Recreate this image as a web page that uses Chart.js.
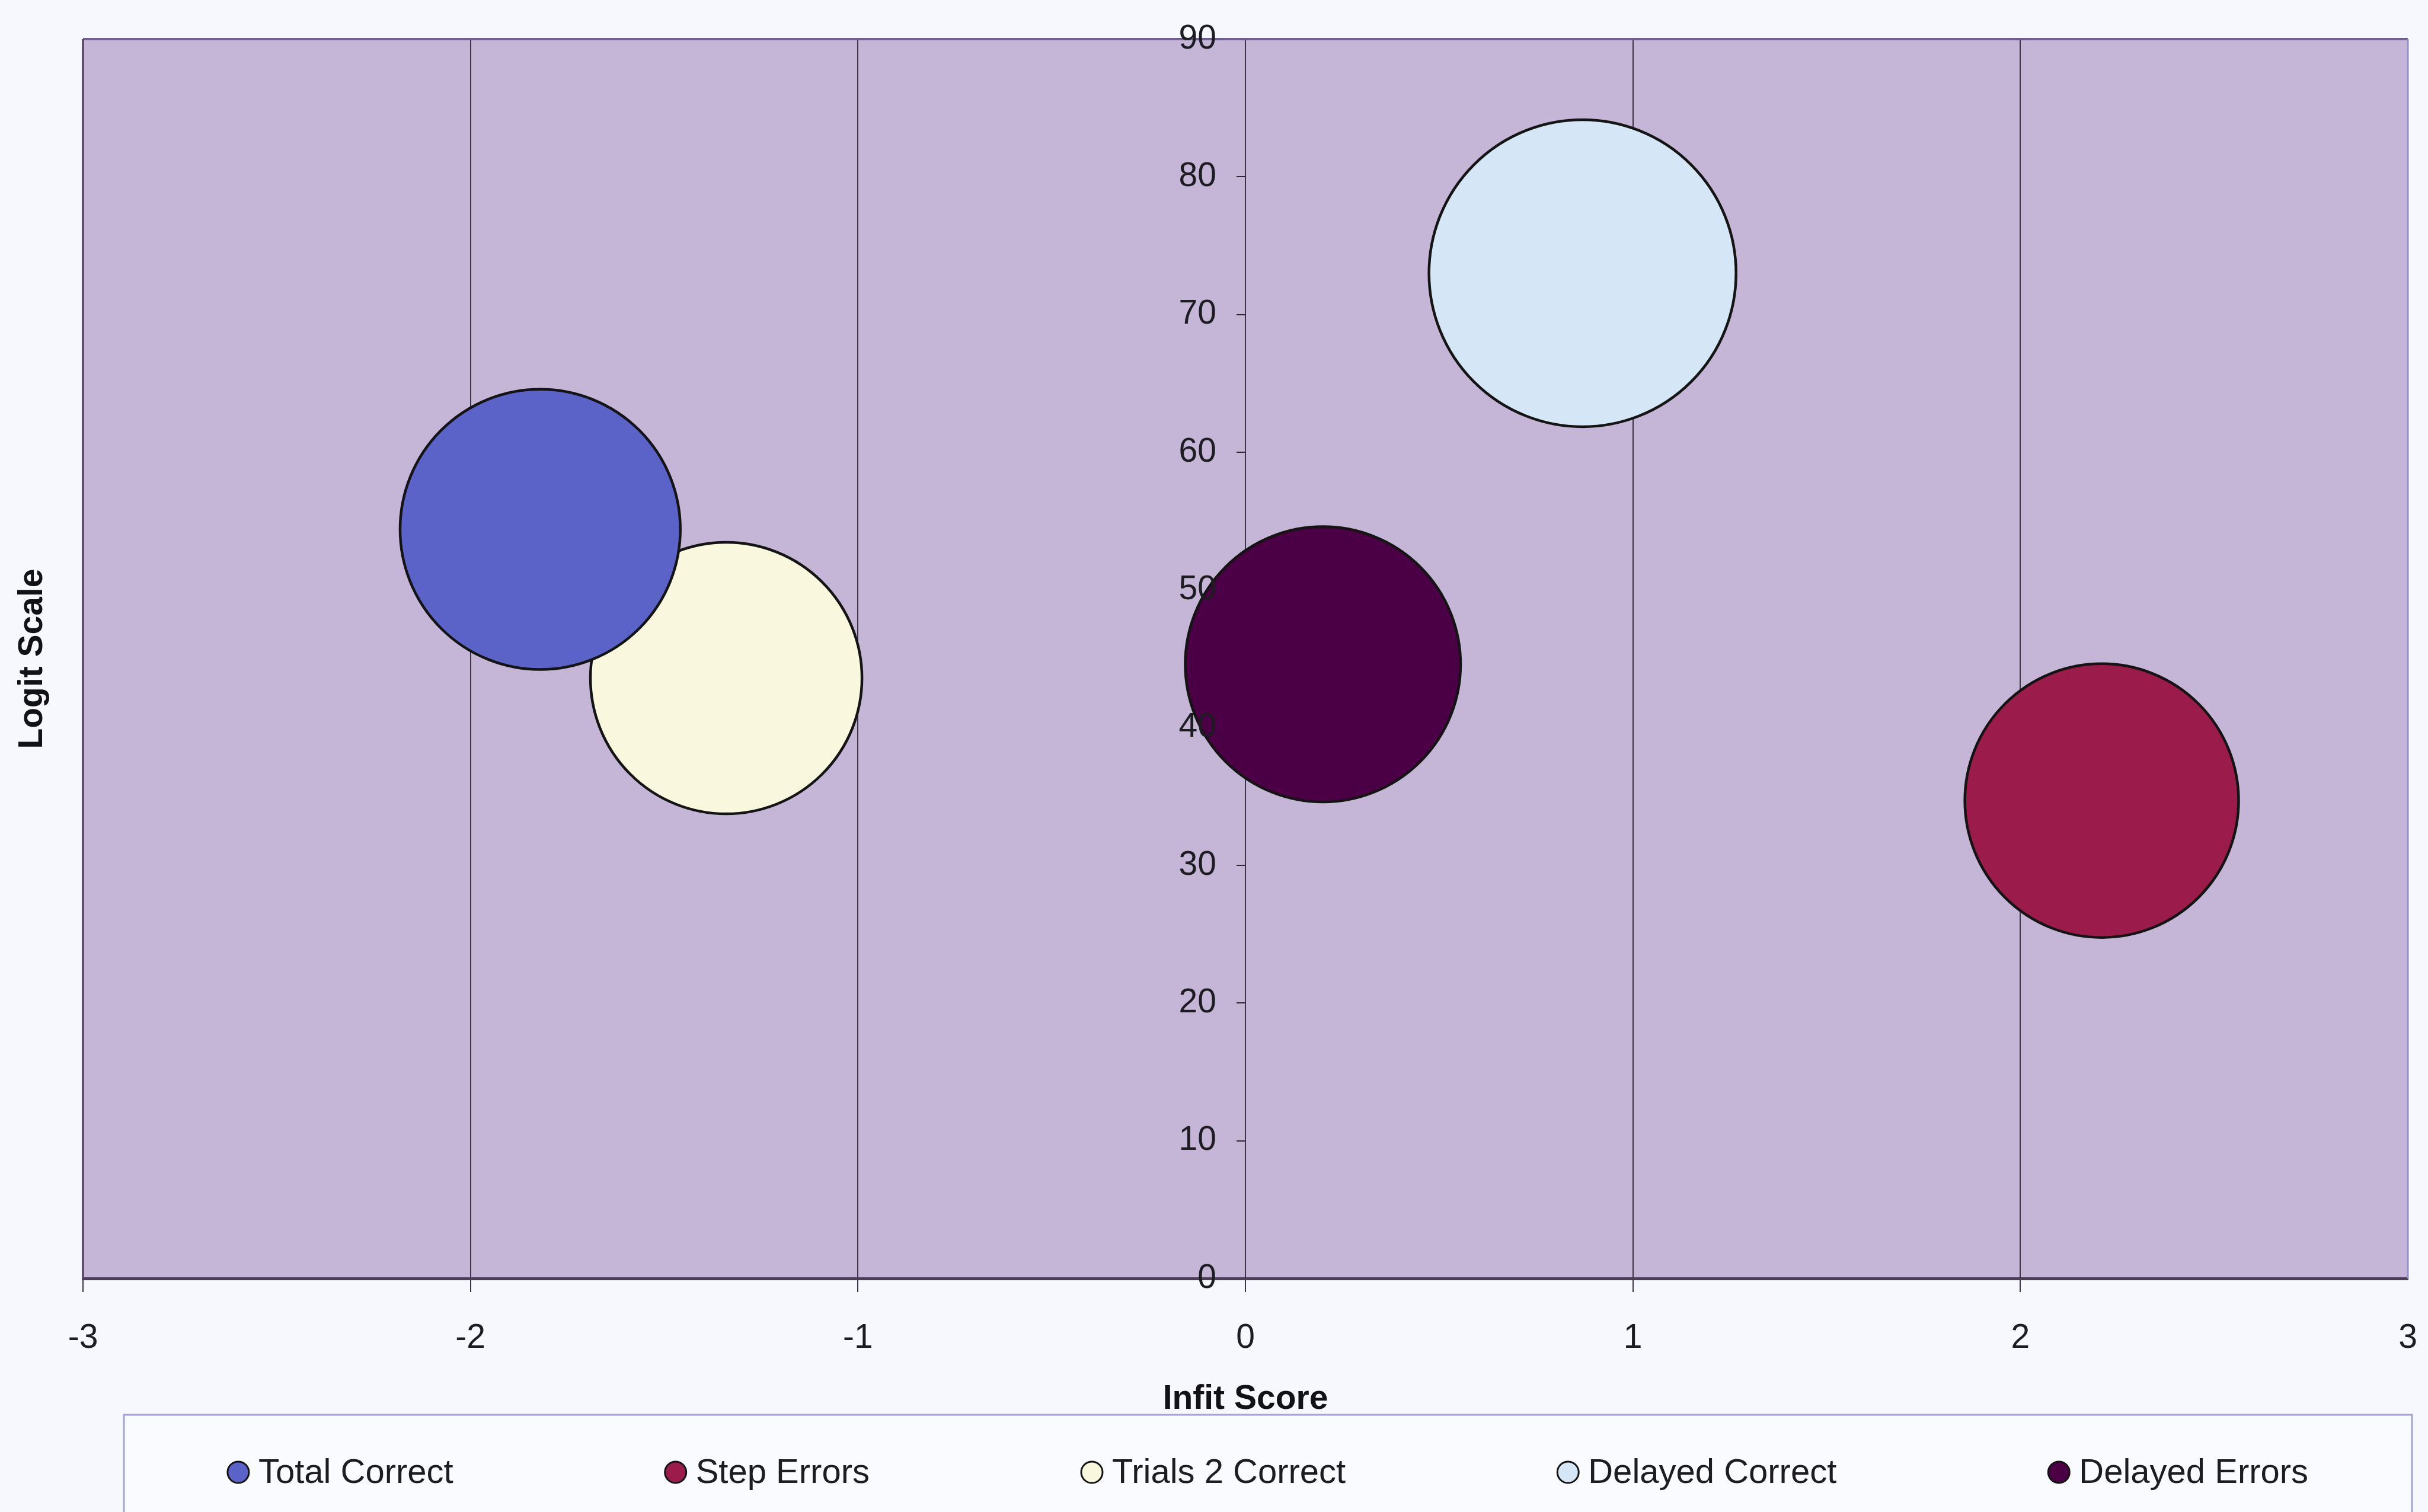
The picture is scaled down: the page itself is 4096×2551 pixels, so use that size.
<!DOCTYPE html>
<html>
<head>
<meta charset="utf-8">
<title>Infit Score / Logit Scale</title>
<script src="https://cdn.jsdelivr.net/npm/chart.js@4.4.1/dist/chart.umd.min.js"></script>
<style>
  html, body { margin: 0; padding: 0; background: #f6f8fd; }
  #wrap { width: 4096px; height: 2551px; }
  canvas { display: block; }
</style>
</head>
<body>
<div id="wrap"><canvas id="chart" width="4096" height="2551"></canvas></div>
<script>
// Series, in drawing / legend order
const seriesNames = ['Total Correct', 'Step Errors', 'Trials 2 Correct', 'Delayed Correct', 'Delayed Errors'];
// Infit score (x) per series
const infitScores = [-1.82, 2.21, -1.34, 0.87, 0.20];
// Logit scale value (y) per series
const logitValues = [54.4, 34.7, 43.6, 73.0, 44.6];
// Bubble size per series (bubble area is proportional to it)
const bubbleSizes = [83.3, 79.5, 78.2, 100, 80.4];
// Axis tick values
const xTickValues = [-3, -2, -1, 0, 1, 2, 3];
const yTickValues = [0, 10, 20, 30, 40, 50, 60, 70, 80, 90];

// Styling
const fillColors = ['#5b63c9', '#9b1b4b', '#f9f8df', '#d5e6f6', '#4b0046'];
const FONT = "'Liberation Sans', Arial, Helvetica, sans-serif";
const TEXT_COLOR = '#1c1c22';
const PAGE_BG = '#f6f8fd';
const PLOT_BG = '#c5b5d6';
// Radius of the largest bubble, in pixels (a quarter of the plot height as diameter)
const MAX_BUBBLE_RADIUS = 259;
// Gap between the y-axis line and its tick labels, in x units
const Y_LABEL_SHIFT = 0.075;

Chart.defaults.font.family = FONT;

const maxSize = Math.max(...bubbleSizes);
const datasets = seriesNames.map((name, i) => ({
  label: name,
  xAxisID: 'x',
  yAxisID: 'y',
  data: [{
    x: infitScores[i],
    y: logitValues[i],
    r: MAX_BUBBLE_RADIUS * Math.sqrt(bubbleSizes[i] / maxSize)
  }],
  backgroundColor: fillColors[i],
  borderColor: '#141414',
  borderWidth: 4.5,
  hoverBorderWidth: 4.5,
  hoverRadius: 0
}));

// Page and plot-area backgrounds, plus the plot frame
const plotFrame = {
  id: 'plotFrame',
  beforeDraw(chart) {
    const { ctx, chartArea: a } = chart;
    ctx.save();
    ctx.fillStyle = PAGE_BG;
    ctx.fillRect(0, 0, chart.width, chart.height);
    ctx.fillStyle = PLOT_BG;
    ctx.fillRect(a.left, a.top, a.width, a.height);
    ctx.restore();
  },
  beforeDatasetsDraw(chart) {
    const { ctx, chartArea: a } = chart;
    const seg = (x1, y1, x2, y2, color, w) => {
      ctx.beginPath();
      ctx.strokeStyle = color;
      ctx.lineWidth = w;
      ctx.moveTo(x1, y1);
      ctx.lineTo(x2, y2);
      ctx.stroke();
    };
    ctx.save();
    seg(a.left, a.top, a.right, a.top, '#6e5f8c', 4);
    seg(a.left, a.top, a.left, a.bottom, '#5c4f72', 4);
    seg(a.right, a.top, a.right, a.bottom, '#918ecd', 3);
    ctx.restore();
  }
};

// Framed legend under the axis title
const legendBox = {
  id: 'legendBox',
  afterDraw(chart) {
    const { ctx } = chart;
    const boxLeft = 209, boxRight = 4069, boxTop = 2387;
    const rowY = 2484;
    const markerR = 18, markerGap = 16, itemGap = 357;
    const fontSize = 58;
    ctx.save();
    ctx.fillStyle = '#fafbfe';
    ctx.fillRect(boxLeft, boxTop, boxRight - boxLeft, chart.height - boxTop + 20);
    ctx.strokeStyle = '#a3a2d6';
    ctx.lineWidth = 3;
    ctx.strokeRect(boxLeft, boxTop, boxRight - boxLeft, chart.height - boxTop + 20);

    ctx.font = fontSize + 'px ' + FONT;
    const widths = seriesNames.map(n => 2 * markerR + markerGap + ctx.measureText(n).width);
    const total = widths.reduce((s, w) => s + w, 0) + itemGap * (widths.length - 1);
    let x = (boxLeft + boxRight) / 2 - total / 2;
    seriesNames.forEach((name, i) => {
      ctx.beginPath();
      ctx.arc(x + markerR, rowY, markerR, 0, Math.PI * 2);
      ctx.fillStyle = fillColors[i];
      ctx.fill();
      ctx.lineWidth = 3;
      ctx.strokeStyle = '#141414';
      ctx.stroke();
      ctx.fillStyle = TEXT_COLOR;
      ctx.textAlign = 'left';
      ctx.textBaseline = 'middle';
      ctx.fillText(name, x + 2 * markerR + markerGap, rowY + 2);
      x += widths[i] + itemGap;
    });
    ctx.restore();
  }
};

const yTicksFromList = s => { s.ticks = yTickValues.map(v => ({ value: v })); };

new Chart(document.getElementById('chart'), {
  type: 'bubble',
  data: { datasets },
  plugins: [plotFrame, legendBox],
  options: {
    responsive: false,
    devicePixelRatio: 1,
    animation: false,
    events: [],
    layout: { autoPadding: false, padding: { top: 66, right: 34, bottom: 134, left: 0 } },
    plugins: {
      legend: { display: false },
      tooltip: { enabled: false }
    },
    scales: {
      x: {
        type: 'linear',
        position: 'bottom',
        min: xTickValues[0],
        max: xTickValues[xTickValues.length - 1],
        afterBuildTicks: s => { s.ticks = xTickValues.map(v => ({ value: v })); },
        afterFit: s => {
          s.height = 260;
          // end labels fit inside the outer margins
          s.paddingLeft = 0;
          s.paddingRight = 0;
        },
        grid: {
          color: c => (c.tick && c.tick.value === xTickValues[xTickValues.length - 1]) ? 'rgba(0,0,0,0)' : '#3b3345',
          lineWidth: 2,
          tickLength: 23
        },
        border: { display: true, color: '#4b3d55', width: 5 },
        ticks: {
          color: TEXT_COLOR,
          font: { size: 57 },
          padding: 44,
          maxRotation: 0,
          autoSkip: false
        },
        title: {
          display: true,
          text: 'Infit Score',
          color: '#111116',
          font: { size: 57, weight: 'bold' },
          padding: { top: 0, bottom: 22 }
        }
      },
      // Value axis: tick labels just left of the x = 0 line
      y: {
        type: 'linear',
        position: { x: -Y_LABEL_SHIFT },
        min: yTickValues[0],
        max: yTickValues[yTickValues.length - 1],
        afterBuildTicks: yTicksFromList,
        grid: { display: false },
        border: { display: false },
        ticks: {
          color: TEXT_COLOR,
          font: { size: 57 },
          autoSkip: false,
          z: 1
        }
      },
      // Short tick marks on the x = 0 line
      yMarks: {
        type: 'linear',
        axis: 'y',
        position: { x: 0 },
        min: yTickValues[0],
        max: yTickValues[yTickValues.length - 1],
        afterBuildTicks: yTicksFromList,
        grid: { drawOnChartArea: false, drawTicks: true, tickLength: 15, color: '#2a2a30', lineWidth: 2 },
        border: { display: false },
        ticks: { display: false }
      },
      yTitle: {
        type: 'linear',
        axis: 'y',
        position: 'left',
        min: 0,
        max: 90,
        afterFit: s => { s.width = 140; },
        grid: { display: false },
        border: { display: false },
        ticks: { display: false },
        title: {
          display: true,
          text: 'Logit Scale',
          color: '#111116',
          font: { size: 57, weight: 'bold' },
          padding: { top: 21, bottom: 0 }
        }
      }
    }
  }
});
</script>
</body>
</html>
